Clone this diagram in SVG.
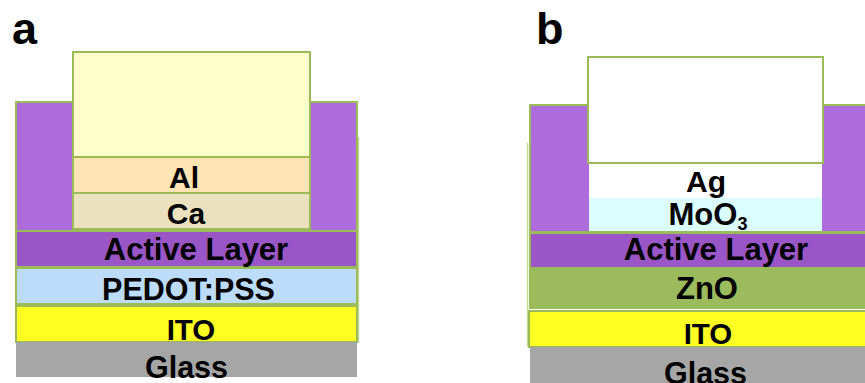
<svg xmlns="http://www.w3.org/2000/svg" width="865" height="383" viewBox="0 0 865 383">
  <style>
    .lyr { stroke: #9BBB59; stroke-width: 2; }
    .flat { stroke: none; }
    .lbl { font-family: "Liberation Sans", Arial, sans-serif; font-weight: bold; fill: #000; text-anchor: middle; }
    .tag { font-family: "Liberation Sans", Arial, sans-serif; font-weight: bold; fill: #000; font-size: 45px; }
    .edge { stroke: #C5D89A; stroke-width: 1.5; fill: none; }
  </style>
  <rect width="865" height="383" fill="#FFFFFF"/>

  <!-- Panel a: conventional device stack -->
  <g id="panel-a">
    <text class="tag" x="12" y="44">a</text>
    <line class="edge" x1="358.5" y1="137" x2="358.5" y2="343"/>
    <g id="a-encapsulation"><rect class="lyr" x="16" y="102" width="341" height="129" fill="#AD6BDC"/></g>
    <g id="a-top"><rect class="lyr" x="73" y="52" width="237" height="105" fill="#FFFFCC"/></g>
    <g id="a-al">
      <rect class="lyr" x="73" y="157" width="237" height="36" fill="#FFE4B4"/>
      <text class="lbl" x="184" y="188" font-size="30">Al</text>
    </g>
    <g id="a-ca">
      <rect class="lyr" x="73" y="193" width="237" height="36" fill="#EBE1BF"/>
      <text class="lbl" x="186" y="224" font-size="30">Ca</text>
    </g>
    <g id="a-active">
      <rect class="lyr" x="16" y="231" width="341" height="36" fill="#9A56C6"/>
      <text class="lbl" x="196" y="260" font-size="31">Active Layer</text>
    </g>
    <g id="a-pedot">
      <rect class="lyr" x="16" y="268" width="341" height="36" fill="#BDDCF9"/>
      <text class="lbl" x="188.5" y="300" font-size="30.5">PEDOT:PSS</text>
    </g>
    <g id="a-ito">
      <rect class="lyr" x="16" y="306" width="341" height="36" fill="#FFFF24"/>
      <text class="lbl" x="191" y="340" font-size="29.5">ITO</text>
    </g>
    <g id="a-glass">
      <rect class="flat" x="16" y="342" width="341" height="35" fill="#A6A6A6"/>
      <text class="lbl" x="186.5" y="378" font-size="30.5">Glass</text>
    </g>
  </g>

  <!-- Panel b: inverted device stack -->
  <g id="panel-b">
    <text class="tag" x="536" y="44">b</text>
    <line class="edge" x1="527.5" y1="143" x2="527.5" y2="347"/>
    <g id="b-encapsulation"><rect class="lyr" x="530" y="105" width="345" height="127" fill="#AD6BDC"/></g>
    <g id="b-top"><rect class="lyr" x="588" y="57" width="235" height="106" fill="#FFFFFF"/></g>
    <g id="b-ag">
      <rect class="flat" x="589" y="164" width="233" height="34" fill="#FFFFFF"/>
      <text class="lbl" x="706" y="192" font-size="30">Ag</text>
    </g>
    <g id="b-moo3">
      <rect class="flat" x="589" y="198" width="233" height="33" fill="#DCFDFE"/>
      <text class="lbl" x="708" y="225" font-size="31">MoO<tspan font-size="18" dy="5">3</tspan></text>
    </g>
    <g id="b-active">
      <rect class="lyr" x="530" y="233" width="345" height="35" fill="#9A56C6"/>
      <text class="lbl" x="716" y="260" font-size="31">Active Layer</text>
    </g>
    <g id="b-zno">
      <rect class="lyr" x="530" y="268" width="345" height="40" fill="#9BBB5C"/>
      <text class="lbl" x="707" y="299" font-size="31">ZnO</text>
    </g>
    <g id="b-ito">
      <rect class="lyr" x="529" y="311" width="346" height="36" fill="#FFFF24"/>
      <text class="lbl" x="708" y="344" font-size="29.5">ITO</text>
    </g>
    <g id="b-glass">
      <rect class="flat" x="530" y="347" width="345" height="40" fill="#A6A6A6"/>
      <text class="lbl" x="705.5" y="384" font-size="30.5">Glass</text>
    </g>
  </g>

  <g id="connectors"/>
</svg>
